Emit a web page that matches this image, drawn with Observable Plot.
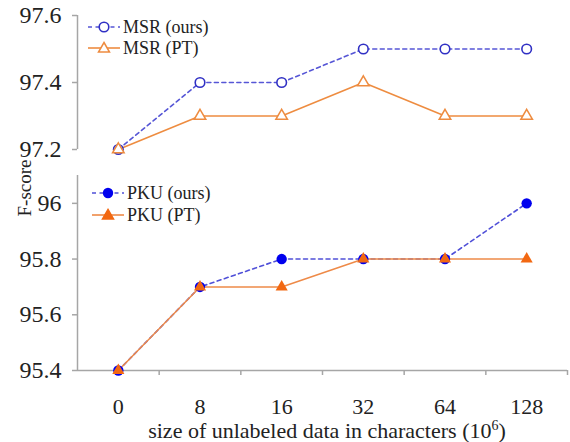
<!DOCTYPE html>
<html>
<head>
<meta charset="utf-8">
<script src="https://cdn.jsdelivr.net/npm/d3@7"></script>
<script src="https://cdn.jsdelivr.net/npm/@observablehq/plot@0.6"></script>
<style>
  html, body { margin: 0; padding: 0; background: #fff; }
  #wrap { position: relative; width: 570px; height: 442px; font-family: "Liberation Serif", serif; color: #222; }
  #top, #bottom { position: absolute; left: 0; }
  #top { top: 0; }
  #bottom { top: 160px; }
  .lab { position: absolute; white-space: nowrap; }
  .leg { position: absolute; display: flex; align-items: center; font-size: 18px; height: 20px; }
  .leg svg { display: block; margin-right: 2px; }
</style>
</head>
<body>
<div id="wrap">
  <div id="top"></div>
  <div id="bottom"></div>
</div>
<script>
const categories = ["0", "8", "16", "32", "64", "128"];
const msrOurs = [97.2, 97.4, 97.4, 97.5, 97.5, 97.5];
const msrPT   = [97.2, 97.3, 97.3, 97.4, 97.3, 97.3];
const pkuOurs = [95.4, 95.7, 95.8, 95.8, 95.8, 96.0];
const pkuPT   = [95.4, 95.7, 95.7, 95.8, 95.8, 95.8];
const topTicks = ["97.2", "97.4", "97.6"];
const bottomTicks = ["95.4", "95.6", "95.8", "96"];
const seriesNames = ["MSR (ours)", "MSR (PT)", "PKU (ours)", "PKU (PT)"];
const xTitle = "size of unlabeled data in characters (10";
const yTitle = "F-score";

const rows = categories.map((c, i) => ({
  i, c, msrOurs: msrOurs[i], msrPT: msrPT[i], pkuOurs: pkuOurs[i], pkuPT: pkuPT[i]
}));

const C = {
  msrOursLine: "#5656d6", msrOursDot: "#3030c4",
  msrPT: "#ee8c40",
  pkuOursLine: "#5050d8", pkuOursDot: "#0000ee",
  pkuPTLine: "#ee8a48", pkuPTDot: "#f26812",
  axis: "#a6a6a6"
};
const FONT_A = "serif";
const FONT_B = "Times New Roman";
const xDomain = [-0.5, categories.length - 0.5];
const boundaries = categories.map((c, i) => i + 0.5);

const topPlot = Plot.plot({
  width: 570, height: 160,
  marginTop: 15, marginBottom: 11, marginLeft: 77, marginRight: 3,
  x: { domain: xDomain, axis: null },
  y: { domain: [+topTicks[0], +topTicks[topTicks.length - 1]] },
  style: { fontFamily: FONT_A, fontSize: "22px", color: "#222", background: "#fff", overflow: "visible" },
  marks: [
    Plot.ruleX([xDomain[0]], { y1: +topTicks[0], y2: +topTicks[topTicks.length - 1], stroke: C.axis, strokeWidth: 1.5 }),
    Plot.axisY({ ticks: topTicks.map(Number), tickFormat: (d, k) => topTicks[k], tickSize: 5, tickPadding: 11, stroke: C.axis, strokeWidth: 1.5, fill: "#222", label: null, fontFamily: FONT_A, fontSize: 24 }),
    Plot.line(rows, { x: "i", y: "msrOurs", stroke: C.msrOursLine, strokeWidth: 1.6, strokeDasharray: "4,3.5" }),
    Plot.line(rows, { x: "i", y: "msrPT", stroke: C.msrPT, strokeWidth: 1.5 }),
    Plot.dot(rows, { x: "i", y: "msrOurs", r: 4.8, stroke: C.msrOursDot, strokeWidth: 1.6, fill: "#fff" }),
    Plot.dot(rows, { x: "i", y: "msrPT", symbol: "triangle", r: 4.3, stroke: C.msrPT, strokeWidth: 1.5, fill: "#fff" })
  ]
});
document.getElementById("top").appendChild(topPlot);

const yb = bottomTicks.map(Number);
const bottomPlot = Plot.plot({
  width: 570, height: 282,
  marginTop: 15, marginBottom: 72, marginLeft: 77, marginRight: 3,
  x: { domain: xDomain },
  y: { domain: [yb[0], 96.1] },
  style: { fontFamily: FONT_B, fontSize: "22px", color: "#222", background: "#fff", overflow: "visible" },
  marks: [
    Plot.ruleX([xDomain[0]], { y1: yb[0], y2: 96.1, stroke: C.axis, strokeWidth: 1.5 }),
    Plot.ruleY([yb[0]], { x1: xDomain[0], x2: xDomain[1], stroke: C.axis, strokeWidth: 1.5 }),
    Plot.axisY({ ticks: yb, tickFormat: (d, k) => bottomTicks[k], tickSize: 5, tickPadding: 11, stroke: C.axis, strokeWidth: 1.5, fill: "#222", label: null, fontFamily: FONT_B, fontSize: 24 }),
    Plot.axisX({ ticks: boundaries, tickFormat: () => "", tickSize: 5, stroke: C.axis, strokeWidth: 1.5, label: null }),
    Plot.axisX({ ticks: categories.map((c, i) => i), tickFormat: i => categories[i], tickSize: 0, tickPadding: 28, fill: "#222", label: null, fontFamily: FONT_B, fontSize: 22 }),
    Plot.line(rows, { x: "i", y: "pkuOurs", stroke: C.pkuOursLine, strokeWidth: 1.6, strokeDasharray: "4,3.5" }),
    Plot.line(rows, { x: "i", y: "pkuPT", stroke: C.pkuPTLine, strokeWidth: 1.5 }),
    Plot.dot(rows, { x: "i", y: "pkuOurs", r: 5.2, fill: C.pkuOursDot }),
    Plot.dot(rows, { x: "i", y: "pkuPT", symbol: "triangle", r: 4.5, fill: C.pkuPTDot })
  ]
});
document.getElementById("bottom").appendChild(bottomPlot);

const wrap = document.getElementById("wrap");
function addLegend(left, top, name, lineColor, dash, markerSvg) {
  const d = document.createElement("div");
  d.className = "leg";
  d.style.left = left + "px";
  d.style.top = top + "px";
  d.innerHTML = `<svg width="34" height="20"><line x1="1" y1="10" x2="33" y2="10" stroke="${lineColor}" stroke-width="1.6" ${dash ? 'stroke-dasharray="4,3.5"' : ''}/>${markerSvg}</svg><span>${name}</span>`;
  wrap.appendChild(d);
}
const tri = (fill, stroke) => `<path d="M17,4.5 L22.5,14 L11.5,14 Z" fill="${fill}" stroke="${stroke}" stroke-width="1.5"/>`;
addLegend(87, 17, seriesNames[0], C.msrOursLine, true, `<circle cx="17" cy="10" r="4.8" fill="#fff" stroke="${C.msrOursDot}" stroke-width="1.6"/>`);
addLegend(87, 38, seriesNames[1], C.msrPT, false, tri("#fff", C.msrPT));
addLegend(91, 183, seriesNames[2], C.pkuOursLine, true, `<circle cx="17" cy="10" r="5.2" fill="${C.pkuOursDot}"/>`);
addLegend(91, 205, seriesNames[3], C.pkuPTLine, false, tri(C.pkuPTDot, C.pkuPTDot));

const xt = document.createElement("div");
xt.className = "lab";
xt.style.cssText = "left:0;width:654px;text-align:center;top:419px;font-size:22px;line-height:24px;";
xt.innerHTML = xTitle + "<sup style='font-size:14px;vertical-align:8px;line-height:0'>6</sup>)";
wrap.appendChild(xt);

const yt = document.createElement("div");
yt.className = "lab";
yt.style.cssText = "left:25px;top:188px;font-size:19px;line-height:22px;transform:translate(-50%,-50%) rotate(-90deg);";
yt.textContent = yTitle;
wrap.appendChild(yt);
</script>
</body>
</html>
